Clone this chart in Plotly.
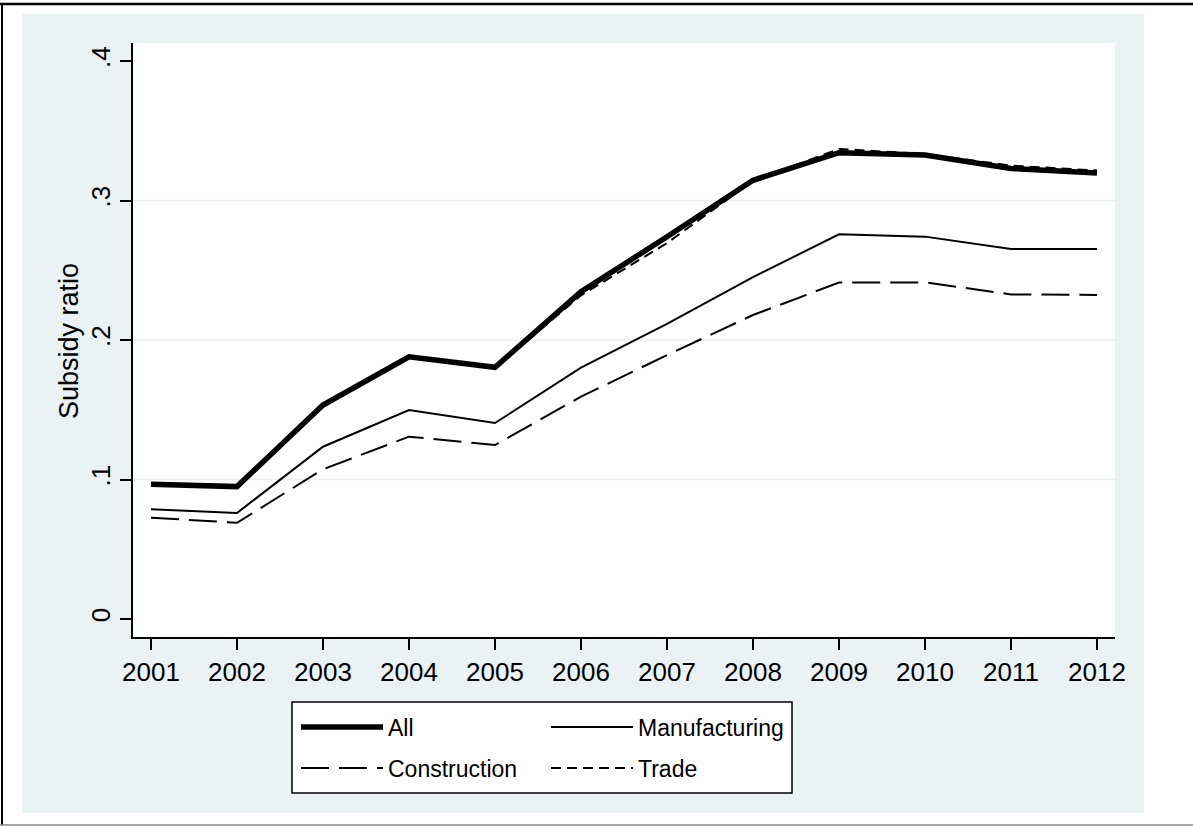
import plotly.graph_objects as go

# ---- data ----
years = [2001, 2002, 2003, 2004, 2005, 2006, 2007, 2008, 2009, 2010, 2011, 2012]
all_firms = [0.0966, 0.0949, 0.1534, 0.1880, 0.1804, 0.2346, 0.2740, 0.3145, 0.3343, 0.3326, 0.3230, 0.3198]
manufacturing = [0.0786, 0.0760, 0.1235, 0.1498, 0.1405, 0.1802, 0.2115, 0.2450, 0.2758, 0.2741, 0.2652, 0.2652]
construction = [0.0726, 0.0690, 0.1073, 0.1307, 0.1247, 0.1594, 0.1892, 0.2179, 0.2412, 0.2413, 0.2327, 0.2323]
trade = [0.0966, 0.0949, 0.1530, 0.1875, 0.1800, 0.2320, 0.2695, 0.3140, 0.3370, 0.3333, 0.3250, 0.3215]
series_names = ["All", "Manufacturing", "Construction", "Trade"]
y_tickvals = [0, 0.1, 0.2, 0.3, 0.4]
y_ticktext = ["0", ".1", ".2", ".3", ".4"]
grid_vals = [0.1, 0.2, 0.3]
y_title = "Subsidy ratio"

# ---- geometry (pixels) ----
W, H = 1193, 826
L, R, T, B = 133, 1115, 43, 637
PW, PH = R - L, B - T

def px(x):
    return (x - L) / PW

def py(y):
    return (B - y) / PH

BG = "#EAF2F3"
TICKFONT = dict(family="Liberation Sans, Arial, sans-serif", size=26, color="black")
LEGFONT = dict(family="Liberation Sans Narrow, Arial Narrow, Liberation Sans, sans-serif", size=23, color="black")

styles = [
    dict(color="black", width=5.5, dash="solid"),
    dict(color="black", width=2, dash="solid"),
    dict(color="black", width=2, dash="28px,10px"),
    dict(color="black", width=2, dash="10px,6px"),
]
values = [all_firms, manufacturing, construction, trade]
legend_ids = ["legend", "legend2", "legend3", "legend4"]

fig = go.Figure()
for name, vals, st, lg in zip(series_names, values, styles, legend_ids):
    fig.add_trace(go.Scatter(x=years, y=vals, mode="lines", name=name,
                             line=st, legend=lg))

shapes = []
# graph region background
shapes.append(dict(type="rect", xref="paper", yref="paper", layer="below",
                   x0=px(22), x1=px(1144), y0=py(813), y1=py(14),
                   fillcolor=BG, line=dict(width=0)))
# plot region
shapes.append(dict(type="rect", xref="paper", yref="paper", layer="below",
                   x0=0, x1=1, y0=0, y1=1, fillcolor="white", line=dict(width=0)))
# legend box
shapes.append(dict(type="rect", xref="paper", yref="paper", layer="below",
                   x0=px(292), x1=px(792), y0=py(793), y1=py(702),
                   fillcolor="white", line=dict(color="black", width=1.5)))
# grid lines
for g in grid_vals:
    shapes.append(dict(type="line", xref="paper", yref="y", layer="below",
                       x0=0, x1=1, y0=g, y1=g, line=dict(color=BG, width=1.5)))
# outer frame
shapes.append(dict(type="line", xref="paper", yref="paper", x0=px(0), x1=px(W),
                   y0=py(4), y1=py(4), line=dict(color="black", width=2.5)))
shapes.append(dict(type="line", xref="paper", yref="paper", x0=px(2), x1=px(2),
                   y0=py(4), y1=py(825), line=dict(color="black", width=2)))
shapes.append(dict(type="line", xref="paper", yref="paper", x0=px(0), x1=px(W),
                   y0=py(825), y1=py(825), line=dict(color="#888888", width=1.5)))

legend_common = dict(orientation="v", bgcolor="rgba(0,0,0,0)", borderwidth=0,
                     itemwidth=82, font=LEGFONT, xanchor="left", yanchor="middle",
                     itemclick=False, itemdoubleclick=False)
leg_pos = [(296, 727), (546, 727), (296, 768), (546, 768)]
legends = {}
for lg, (lx, ly) in zip(legend_ids, leg_pos):
    legends[lg] = dict(legend_common, x=px(lx), y=py(ly))

fig.update_layout(
    width=W, height=H,
    margin=dict(l=L, r=W - R, t=T, b=H - B, pad=0),
    paper_bgcolor="white",
    plot_bgcolor="rgba(0,0,0,0)",
    showlegend=True,
    shapes=shapes,
    xaxis=dict(range=[2001 - 18 / 86, 2012 + 18 / 86], tickvals=years,
               ticktext=[str(y) for y in years], showgrid=False, zeroline=False,
               showline=True, linecolor="black", linewidth=1.5,
               ticks="outside", ticklen=11, tickwidth=1.5, tickcolor="black",
               tickfont=TICKFONT),
    yaxis=dict(range=[-18 / 1395, 0.4 + 18 / 1395], tickvals=y_tickvals,
               ticktext=y_ticktext, showgrid=False, zeroline=False,
               showline=True, linecolor="black", linewidth=1.5,
               ticks="outside", ticklen=11, tickwidth=1.5, tickcolor="black",
               tickangle=-90, tickfont=TICKFONT),
    annotations=[dict(text=y_title, xref="paper", yref="paper", x=px(69), y=py(341),
                      showarrow=False, textangle=-90, xanchor="center", yanchor="middle",
                      font=dict(family="Liberation Sans, Arial, sans-serif", size=27, color="black"))],
    **legends,
)

fig.write_html("out.html", config={"displayModeBar": False},
               post_script="document.body.style.margin='0';document.body.style.overflow='hidden';")
